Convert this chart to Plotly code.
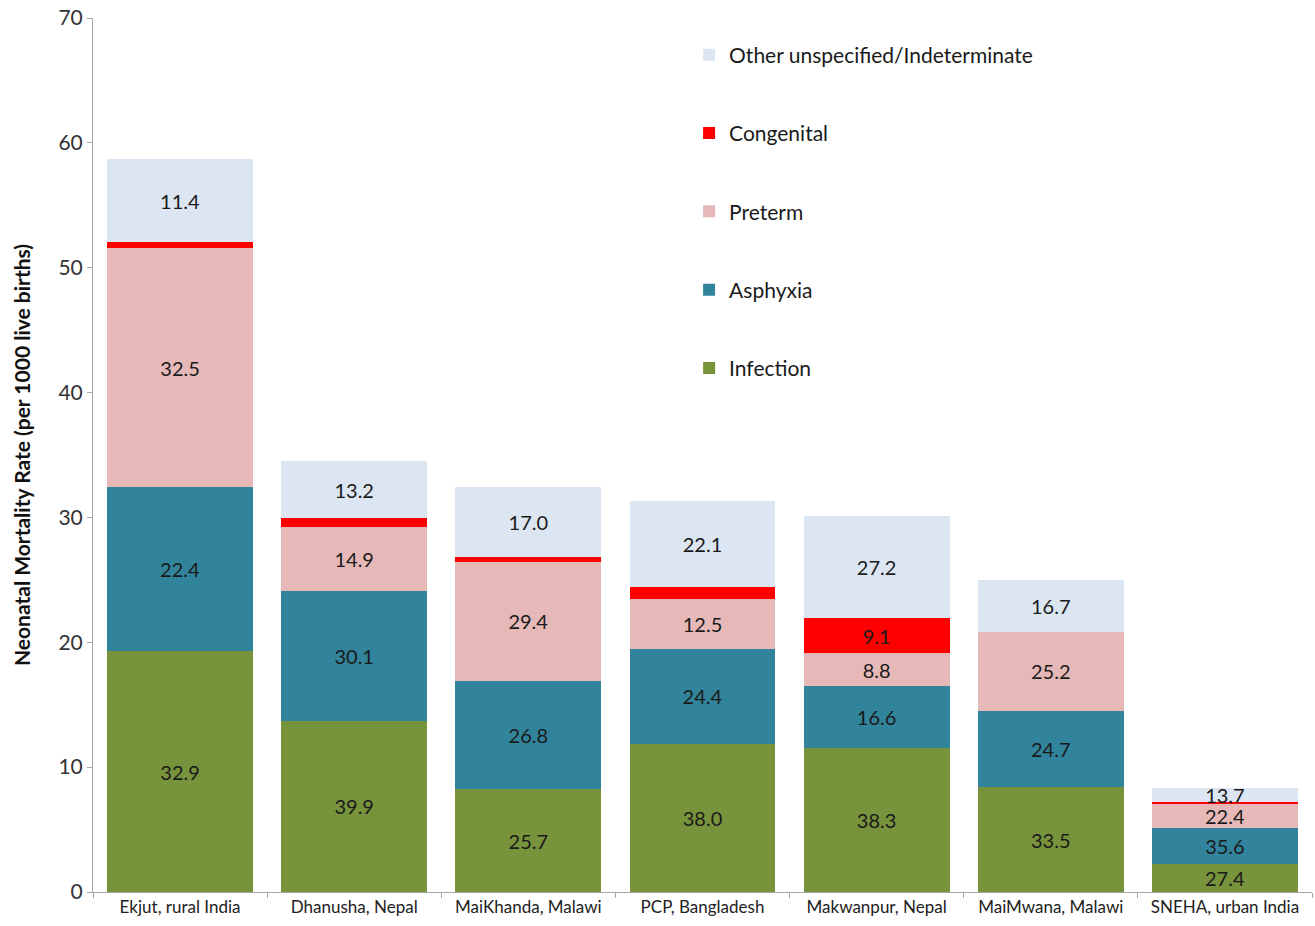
import plotly.graph_objects as go

categories = ["Ekjut, rural India", "Dhanusha, Nepal", "MaiKhanda, Malawi",
              "PCP, Bangladesh", "Makwanpur, Nepal", "MaiMwana, Malawi",
              "SNEHA, urban India"]

# Segment heights (NMR per 1000 live births)
infection = [19.30, 13.72, 8.23, 11.83, 11.52, 8.37, 2.24]
asphyxia = [13.15, 10.39, 8.69, 7.66, 4.98, 6.15, 2.90]
preterm = [19.11, 5.15, 9.53, 3.95, 2.62, 6.33, 1.91]
congenital = [0.46, 0.67, 0.36, 0.96, 2.81, 0.0, 0.14]
other = [6.72, 4.59, 5.60, 6.91, 8.21, 4.14, 1.16]

# Percentage labels shown on the segments
infection_lbl = ["32.9", "39.9", "25.7", "38.0", "38.3", "33.5", "27.4"]
asphyxia_lbl = ["22.4", "30.1", "26.8", "24.4", "16.6", "24.7", "35.6"]
preterm_lbl = ["32.5", "14.9", "29.4", "12.5", "8.8", "25.2", "22.4"]
congenital_lbl = ["", "", "", "", "9.1", "", ""]
other_lbl = ["11.4", "13.2", "17.0", "22.1", "27.2", "16.7", "13.7"]

y_ticks = [0, 10, 20, 30, 40, 50, 60, 70]

series = [
    ("Infection", infection, infection_lbl, "#77933C", 5),
    ("Asphyxia", asphyxia, asphyxia_lbl, "#31849B", 4),
    ("Preterm", preterm, preterm_lbl, "#E6B9B8", 3),
    ("Congenital", congenital, congenital_lbl, "#FF0000", 2),
    ("Other unspecified/Indeterminate", other, other_lbl, "#DCE6F2", 1),
]

FONT = "Lato, 'Open Sans', sans-serif"

fig = go.Figure()
for name, vals, lbls, col, rank in series:
    fig.add_trace(go.Bar(
        x=categories, y=vals, name=name, text=lbls,
        marker=dict(color=col, line=dict(width=0)),
        textposition="inside", insidetextanchor="middle", textangle=0,
        textfont=dict(size=20, color="#1a1a1a", family=FONT),
        legendgroup=name, legendrank=rank, hoverinfo="skip",
    ))

fig.update_layout(
    barmode="stack",
    bargap=0.163,
    width=1315, height=926,
    margin=dict(l=93, r=3, t=18, b=34),
    paper_bgcolor="white", plot_bgcolor="white",
    font=dict(family=FONT, color="#222222"),
    uniformtext=dict(minsize=20, mode="show"),
    legend=dict(
        traceorder="grouped",
        tracegroupgap=48,
        x=0.489, y=0.981, xanchor="left", yanchor="top",
        font=dict(size=21, family=FONT, color="#1a1a1a"),
        bgcolor="rgba(0,0,0,0)",
    ),
    showlegend=True,
)

fig.update_yaxes(
    range=[0, 70], tickvals=y_ticks, ticks="outside", ticklen=5,
    tickcolor="#A6A6A6", showline=True, linecolor="#A6A6A6", linewidth=1,
    showgrid=False, zeroline=False,
    tickfont=dict(size=21, color="#333333", family=FONT),
    title=dict(text="<b>Neonatal Mortality Rate (per 1000 live births)</b>",
               font=dict(size=21, color="#111111", family=FONT), standoff=22),
)
fig.update_xaxes(
    showline=True, linecolor="#A6A6A6", linewidth=1, ticks="outside",
    tickson="boundaries", ticklen=5, tickcolor="#A6A6A6", showgrid=False,
    tickfont=dict(size=17, color="#222222", family=FONT),
)

fig.write_html("out.html",
               config={"displayModeBar": False},
               post_script="document.body.style.margin='0';")
